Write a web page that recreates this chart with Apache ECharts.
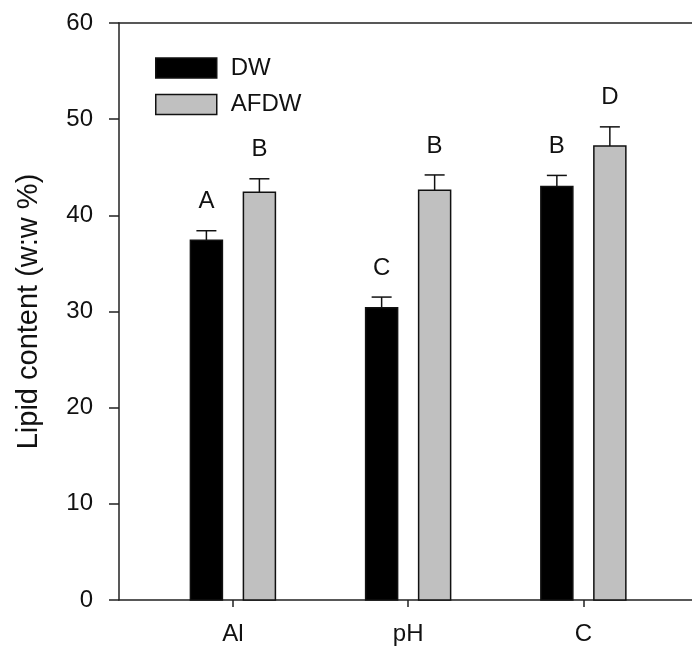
<!DOCTYPE html>
<html>
<head>
<meta charset="utf-8">
<script src="https://cdn.jsdelivr.net/npm/echarts@6/dist/echarts.min.js"></script>
<style>html,body{margin:0;padding:0;background:#fff}#c{width:692px;height:648px}</style>
</head>
<body>
<div id="c"></div>
<script>
var categories = ['Al', 'pH', 'C'];
var dwValues = [37.4, 30.4, 43.0];
var dwErrors = [1.0, 1.1, 1.15];
var dwLetters = ['A', 'C', 'B'];
var afdwValues = [42.4, 42.6, 47.2];
var afdwErrors = [1.4, 1.6, 2.0];
var afdwLetters = ['B', 'B', 'D'];
var yTicks = [0, 10, 20, 30, 40, 50, 60];

var FONT = '"Liberation Sans", Arial, sans-serif';
var chart = echarts.init(document.getElementById('c'), null, {renderer: 'canvas'});

function makeData(vals, errs, letters) {
  return vals.map(function (v, i) { return [i + 1, v, errs[i], letters[i]]; });
}

function makeRender(offset, fill) {
  return function (params, api) {
    var x = api.value(0), v = api.value(1), e = api.value(2), letter = api.value(3);
    var p0 = api.coord([x, 0]);
    var p1 = api.coord([x, v]);
    var pe = api.coord([x, v + e]);
    var cx = p0[0] + offset;
    var bw = 32, cap = 20;
    return {
      type: 'group',
      children: [
        {type: 'line', shape: {x1: cx, y1: p1[1], x2: cx, y2: pe[1]}, style: {stroke: '#111', lineWidth: 1.5}},
        {type: 'line', shape: {x1: cx - cap / 2, y1: pe[1], x2: cx + cap / 2, y2: pe[1]}, style: {stroke: '#111', lineWidth: 1.5}},
        {type: 'rect', shape: {x: cx - bw / 2, y: p1[1], width: bw, height: p0[1] - p1[1]}, style: {fill: fill, stroke: '#111', lineWidth: 1.5}},
        {type: 'text', x: cx, y: pe[1] - 17, style: {text: letter, fill: '#111', font: '24px ' + FONT, align: 'center', verticalAlign: 'bottom'}}
      ]
    };
  };
}

var option = {
  animation: false,
  backgroundColor: '#fff',
  grid: {left: 119, right: 0, top: 23, bottom: 48, containLabel: false},
  legend: {
    orient: 'vertical', left: 155, top: 56, padding: 0, itemWidth: 61, itemHeight: 20, itemGap: 12.5,
    icon: 'rect',
    textStyle: {fontFamily: FONT, fontSize: 24, color: '#111', lineHeight: 20, padding: [0, 0, 0, 9]},
    data: [
      {name: 'DW', itemStyle: {color: '#000', borderColor: '#111', borderWidth: 1.5}},
      {name: 'AFDW', itemStyle: {color: '#c0c0c0', borderColor: '#111', borderWidth: 1.5}}
    ]
  },
  xAxis: [{
    type: 'value', min: 0.35, max: 3.62, position: 'bottom',
    axisLine: {show: true, lineStyle: {color: '#222', width: 1.5}},
    splitLine: {show: false},
    axisTick: {show: true, customValues: [1, 2, 3], length: 7, inside: false, lineStyle: {color: '#222', width: 1.5}},
    axisLabel: {customValues: [1, 2, 3], formatter: function (v) { return categories[Math.round(v) - 1] || ''; },
      fontFamily: FONT, fontSize: 24, color: '#111', margin: 22}
  }, {
    type: 'value', min: 0.35, max: 3.62, position: 'top',
    axisLine: {show: true, onZero: false, lineStyle: {color: '#222', width: 1.5}},
    axisTick: {show: false}, axisLabel: {show: false}, splitLine: {show: false}
  }],
  yAxis: {
    type: 'value', min: 0, max: 60, interval: 10,
    name: 'Lipid content (w:w %)', nameLocation: 'middle', nameGap: 76,
    nameTextStyle: {fontFamily: FONT, fontSize: 29, color: '#111'},
    axisLine: {show: true, lineStyle: {color: '#222', width: 1.5}},
    axisTick: {show: true, length: 10, inside: false, lineStyle: {color: '#222', width: 1.5}},
    axisLabel: {fontFamily: FONT, fontSize: 24, color: '#111', margin: 26,
      formatter: function (v) { return yTicks.indexOf(v) >= 0 ? String(v) : ''; }},
    splitLine: {show: false}
  },
  series: [
    {name: 'DW', type: 'custom', xAxisIndex: 0, itemStyle: {color: '#000'},
      renderItem: makeRender(-26.5, '#000'), data: makeData(dwValues, dwErrors, dwLetters),
      encode: {x: 0, y: 1}},
    {name: 'AFDW', type: 'custom', xAxisIndex: 0, itemStyle: {color: '#c0c0c0'},
      renderItem: makeRender(26.5, '#c0c0c0'), data: makeData(afdwValues, afdwErrors, afdwLetters),
      encode: {x: 0, y: 1}}
  ]
};
chart.setOption(option);
</script>
</body>
</html>
